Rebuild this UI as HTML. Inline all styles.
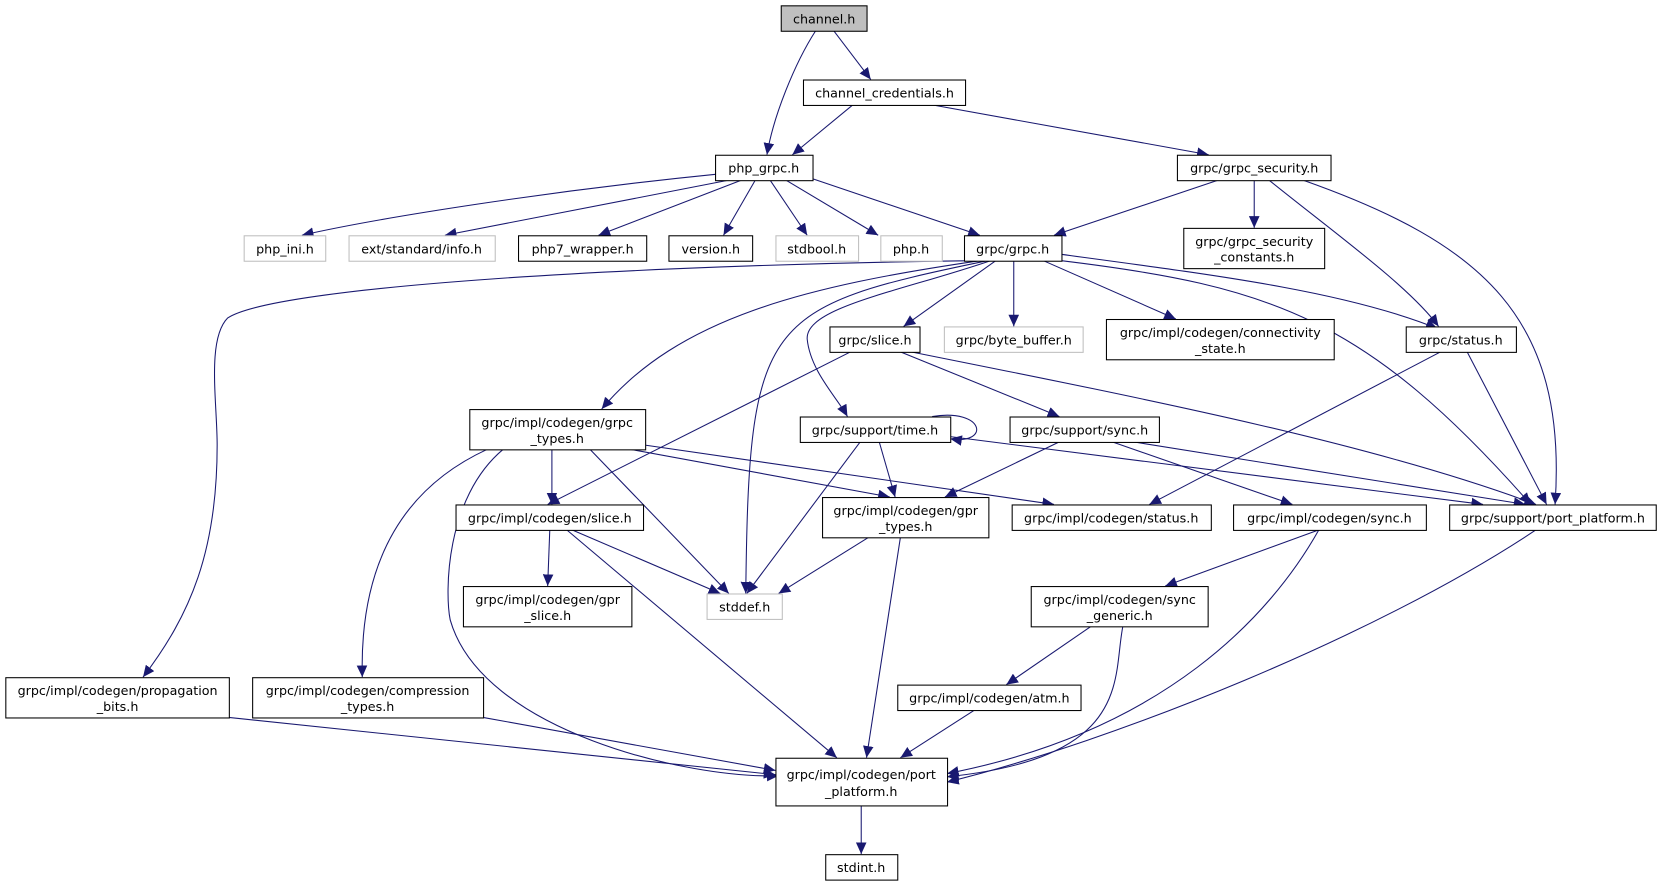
<!DOCTYPE html>
<html><head><meta charset="utf-8"><style>
html,body{margin:0;padding:0;background:#fff;}
svg{display:block;}
text{font-family:"DejaVu Sans","Liberation Sans",sans-serif;font-size:12px;fill:#000;text-anchor:middle;}
.n{fill:#fff;stroke:#000;stroke-width:1;}
.g{fill:#fff;stroke:#bfbfbf;stroke-width:1;}
.e{fill:none;stroke:#191970;stroke-width:1;marker-end:url(#a);}
</style></head><body>
<svg width="1661" height="887" viewBox="0 0 1568 837" preserveAspectRatio="none">
<defs><marker id="a" markerUnits="userSpaceOnUse" markerWidth="12" markerHeight="10" refX="11" refY="5" orient="auto"><path d="M0,0 L11,5 L0,10 z" fill="#191970"/></marker></defs>
<g>
<path class="e" d="M770,29 C750,60 730,110 724,146"/>
<path class="e" d="M787,29 L822,75"/>
<path class="e" d="M805,99 L748,146"/>
<path class="e" d="M880,99 L1141,146"/>
<path class="e" d="M680,164 C520,180 360,205 285,222"/>
<path class="e" d="M688,170 L420,222"/>
<path class="e" d="M700,170 L565,222"/>
<path class="e" d="M713,170 L683,222"/>
<path class="e" d="M727,170 L762,222"/>
<path class="e" d="M742,170 L829,222"/>
<path class="e" d="M765,168 L925,222"/>
<path class="e" d="M1150,170 L995,222"/>
<path class="e" d="M1184,170 L1184,215"/>
<path class="e" d="M1198,170 C1260,220 1330,270 1358,308"/>
<path class="e" d="M1230,170 C1400,230 1480,300 1468,476"/>
<path class="e" d="M918,246 C600,250 260,270 215,300 C195,320 205,380 205,420 C205,520 180,580 135,639"/>
<path class="e" d="M925,246 C760,270 640,300 568,386"/>
<path class="e" d="M932,246 C720,290 707,300 704,560"/>
<path class="e" d="M935,246 C850,275 760,290 762,320 C765,350 790,375 800,393"/>
<path class="e" d="M940,246 L853,308"/>
<path class="e" d="M957,246 L957,308"/>
<path class="e" d="M985,246 L1110,301"/>
<path class="e" d="M1002,240 C1150,260 1270,275 1357,310"/>
<path class="e" d="M1002,246 C1200,270 1290,300 1445,476"/>
<path class="e" d="M803,332 L517,476"/>
<path class="e" d="M850,332 L1000,393"/>
<path class="e" d="M860,332 C1100,380 1300,420 1450,476"/>
<path class="e" d="M1360,332 L1085,476"/>
<path class="e" d="M1385,332 L1460,476"/>
<path class="e" d="M521,424 L521,476"/>
<path class="e" d="M595,424 L840,469"/>
<path class="e" d="M609,420 L995,476"/>
<path class="e" d="M557,424 L688,560"/>
<path class="e" d="M460,424 C360,470 340,560 342,639"/>
<path class="e" d="M475,424 C420,470 420,560 425,585 C455,690 650,735 735,732"/>
<path class="e" d="M880,393 C930,385 935,420 897,414"/>
<path class="e" d="M830,417 L845,469"/>
<path class="e" d="M812,417 L705,560"/>
<path class="e" d="M897,412 L1400,476"/>
<path class="e" d="M1000,417 L892,469"/>
<path class="e" d="M1050,417 L1220,476"/>
<path class="e" d="M1070,417 L1440,476"/>
<path class="e" d="M519,500 L517,553"/>
<path class="e" d="M540,500 L680,560"/>
<path class="e" d="M535,500 L790,715"/>
<path class="e" d="M820,507 L735,560"/>
<path class="e" d="M850,507 L818,715"/>
<path class="e" d="M1245,500 L1100,553"/>
<path class="e" d="M1245,500 C1200,580 1100,690 894,730"/>
<path class="e" d="M1450,500 C1300,600 1050,700 894,738"/>
<path class="e" d="M1030,591 L950,646"/>
<path class="e" d="M1060,591 C1050,640 1070,715 894,733"/>
<path class="e" d="M920,670 L850,715"/>
<path class="e" d="M216,677 L732,731"/>
<path class="e" d="M456,677 L732,727"/>
<path class="e" d="M813,760 L813,806"/>
</g>
<rect x="737.5" y="5.5" width="81" height="24" fill="#bfbfbf" stroke="#000"/><text x="778" y="22">channel.h</text>
<rect class="n" x="758.5" y="75.5" width="153" height="24"/><text x="835" y="92">channel_credentials.h</text>
<rect class="n" x="675.5" y="146.5" width="92" height="24"/><text x="721" y="163">php_grpc.h</text>
<rect class="n" x="1111.5" y="146.5" width="145" height="24"/><text x="1184" y="163">grpc/grpc_security.h</text>
<rect class="g" x="230.5" y="222.5" width="77" height="24"/><text x="269" y="239">php_ini.h</text>
<rect class="g" x="329.5" y="222.5" width="138" height="24"/><text x="398" y="239">ext/standard/info.h</text>
<rect class="n" x="489.5" y="222.5" width="121" height="24"/><text x="550" y="239">php7_wrapper.h</text>
<rect class="n" x="631.5" y="222.5" width="79" height="24"/><text x="671" y="239">version.h</text>
<rect class="g" x="732.5" y="222.5" width="78" height="24"/><text x="771" y="239">stdbool.h</text>
<rect class="g" x="831.5" y="222.5" width="58" height="24"/><text x="860" y="239">php.h</text>
<rect class="n" x="910.5" y="222.5" width="92" height="24"/><text x="956" y="239">grpc/grpc.h</text>
<rect class="n" x="1117.5" y="215.5" width="133" height="38"/><text x="1184" y="232">grpc/grpc_security</text><text x="1184" y="247">_constants.h</text>
<rect class="n" x="783.5" y="308.5" width="85" height="24"/><text x="826" y="325">grpc/slice.h</text>
<rect class="g" x="891.5" y="308.5" width="131" height="24"/><text x="957" y="325">grpc/byte_buffer.h</text>
<rect class="n" x="1044.5" y="301.5" width="215" height="38"/><text x="1152" y="318">grpc/impl/codegen/connectivity</text><text x="1152" y="333">_state.h</text>
<rect class="n" x="1327.5" y="308.5" width="104" height="24"/><text x="1379" y="325">grpc/status.h</text>
<rect class="n" x="443.5" y="386.5" width="166" height="38"/><text x="526" y="403">grpc/impl/codegen/grpc</text><text x="526" y="418">_types.h</text>
<rect class="n" x="755.5" y="393.5" width="142" height="24"/><text x="826" y="410">grpc/support/time.h</text>
<rect class="n" x="953.5" y="393.5" width="141" height="24"/><text x="1024" y="410">grpc/support/sync.h</text>
<rect class="n" x="430.5" y="476.5" width="177" height="24"/><text x="519" y="493">grpc/impl/codegen/slice.h</text>
<rect class="n" x="776.5" y="469.5" width="157" height="38"/><text x="855" y="486">grpc/impl/codegen/gpr</text><text x="855" y="501">_types.h</text>
<rect class="n" x="955.5" y="476.5" width="188" height="24"/><text x="1049" y="493">grpc/impl/codegen/status.h</text>
<rect class="n" x="1164.5" y="476.5" width="182" height="24"/><text x="1255" y="493">grpc/impl/codegen/sync.h</text>
<rect class="n" x="1368.5" y="476.5" width="195" height="24"/><text x="1466" y="493">grpc/support/port_platform.h</text>
<rect class="n" x="437.5" y="553.5" width="159" height="38"/><text x="517" y="570">grpc/impl/codegen/gpr</text><text x="517" y="585">_slice.h</text>
<rect class="g" x="667.5" y="560.5" width="71" height="24"/><text x="703" y="577">stddef.h</text>
<rect class="n" x="973.5" y="553.5" width="167" height="38"/><text x="1057" y="570">grpc/impl/codegen/sync</text><text x="1057" y="585">_generic.h</text>
<rect class="n" x="5.5" y="639.5" width="211" height="38"/><text x="111" y="656">grpc/impl/codegen/propagation</text><text x="111" y="671">_bits.h</text>
<rect class="n" x="238.5" y="639.5" width="218" height="38"/><text x="347" y="656">grpc/impl/codegen/compression</text><text x="347" y="671">_types.h</text>
<rect class="n" x="847.5" y="646.5" width="173" height="24"/><text x="934" y="663">grpc/impl/codegen/atm.h</text>
<rect class="n" x="732.5" y="715.5" width="162" height="45"/><text x="813" y="735">grpc/impl/codegen/port</text><text x="813" y="751">_platform.h</text>
<rect class="n" x="779.5" y="806.5" width="68" height="24"/><text x="813" y="823">stdint.h</text>
</svg>
</body></html>
